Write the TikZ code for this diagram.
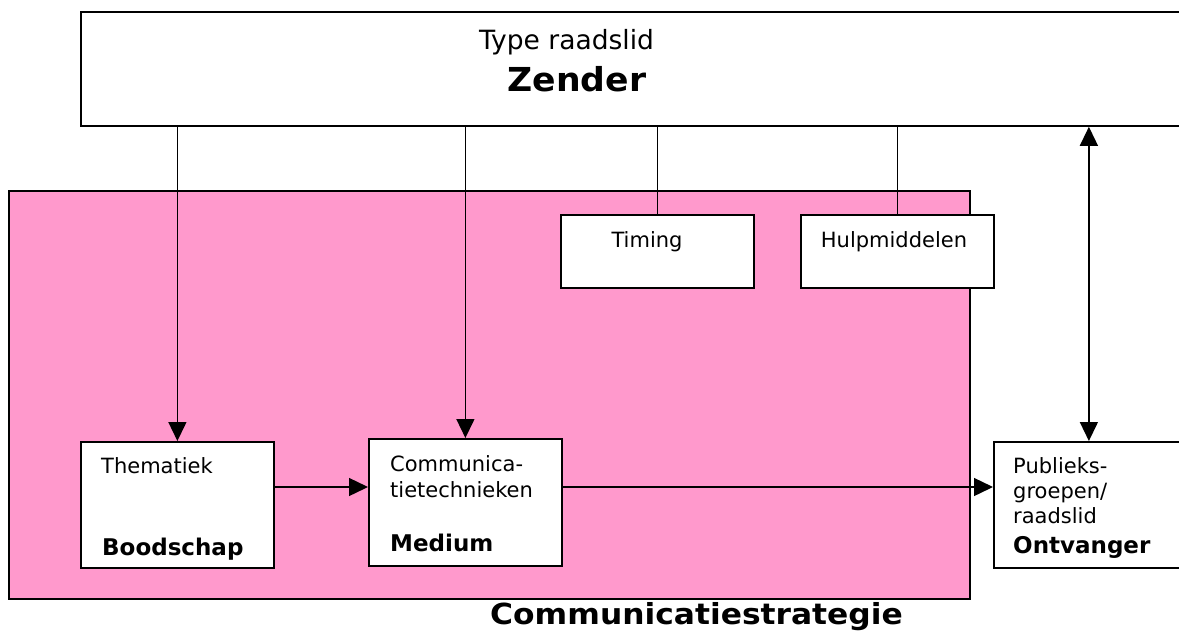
\documentclass[tikz,border=0pt]{standalone}
\usepackage{fontspec}
\usepackage{graphicx}
\setmainfont{DejaVu Sans}
\usetikzlibrary{arrows.meta}
\definecolor{pinkfill}{HTML}{FF99CC}
\begin{document}
\begin{tikzpicture}[x=1pt,y=-1pt,
  box/.style={draw=black, line width=1.8pt, fill=white, inner sep=0pt, anchor=north west},
  area/.style={draw=black, line width=1.8pt, fill=pinkfill, inner sep=0pt, anchor=north west},
  conn/.style={line width=1.4pt},
  arr/.style={conn, -{Triangle[length=19pt,width=18pt]}},
  dbl/.style={conn, {Triangle[length=19pt,width=18pt]}-{Triangle[length=19pt,width=18pt]}},
  lbl/.style={anchor=base west, inner sep=0pt, font=\fontsize{21}{25}\selectfont},
  blbl/.style={anchor=base west, inner sep=0pt, font=\fontsize{23}{27}\selectfont\bfseries},
  clbl/.style={anchor=base, inner sep=0pt, font=\fontsize{21}{25}\selectfont}
]
\useasboundingbox (0,0) rectangle (1179,630);
\clip (0,0) rectangle (1179,630);
\fill[white] (0,0) rectangle (1179,630);

% boxes
\node[box, minimum width=1110pt, minimum height=114pt] (zender) at (80,11) {};
\node[area, minimum width=961pt, minimum height=408pt] (strat) at (8,190) {};
\node[box, minimum width=193pt, minimum height=73pt] (timing) at (560,214) {};
\node[box, minimum width=193pt, minimum height=73pt] (hulp) at (800,214) {};
\node[box, minimum width=193pt, minimum height=126pt] (them) at (80,441) {};
\node[box, minimum width=193pt, minimum height=127pt] (medium) at (368,438) {};
\node[box, minimum width=190pt, minimum height=126pt] (ontv) at (993,441) {};

% texts
\node[anchor=base, inner sep=0pt, font=\fontsize{26.5}{31}\selectfont] (ttype) at (566.5,49) {Type raadslid};
\node[anchor=base, inner sep=0pt, font=\fontsize{33}{38}\selectfont\bfseries] (tzender) at (577,91.5) {\scalebox{1.05}[1]{Zender}};
\node[clbl] (ttiming) at (647,247) {Timing};
\node[clbl] (thulp) at (894,247) {Hulpmiddelen};
\node[lbl] (tthem) at (101,473) {Thematiek};
\node[blbl] (tbood) at (102,555) {Boodschap};
\node[lbl] (tcomm1) at (390,471) {Communica-};
\node[lbl] (tcomm2) at (390,497) {tietechnieken};
\node[blbl] (tmed) at (390,551) {Medium};
\node[lbl] (tpub1) at (1013,473) {Publieks-};
\node[lbl] (tpub2) at (1013,498) {groepen/};
\node[lbl] (tpub3) at (1013,523) {raadslid};
\begin{scope}
  \clip (990,530) rectangle (1179,557);
  \node[blbl] (tontv) at (1013,553) {Ontvanger};
\end{scope}
\node[anchor=base, inner sep=0pt, font=\fontsize{29}{34}\selectfont\bfseries] (tstrat) at (696.5,624.5) {\scalebox{1.08}[1]{Communicatiestrategie}};

% connectors
\coordinate (hy) at (0,487);
\draw[arr] (zender.south -| them.north) -- (them.north);
\draw[arr] (zender.south -| medium.north) -- (medium.north);
\draw[conn] (zender.south -| timing.north) -- (timing.north);
\draw[conn] (zender.south -| hulp.north) -- (hulp.north);
\draw[dbl] (ontv.north) -- (ontv.north |- zender.south);
\draw[arr] (them.east |- hy) -- (medium.west |- hy);
\draw[arr] (medium.east |- hy) -- (ontv.west |- hy);
\end{tikzpicture}
\end{document}
